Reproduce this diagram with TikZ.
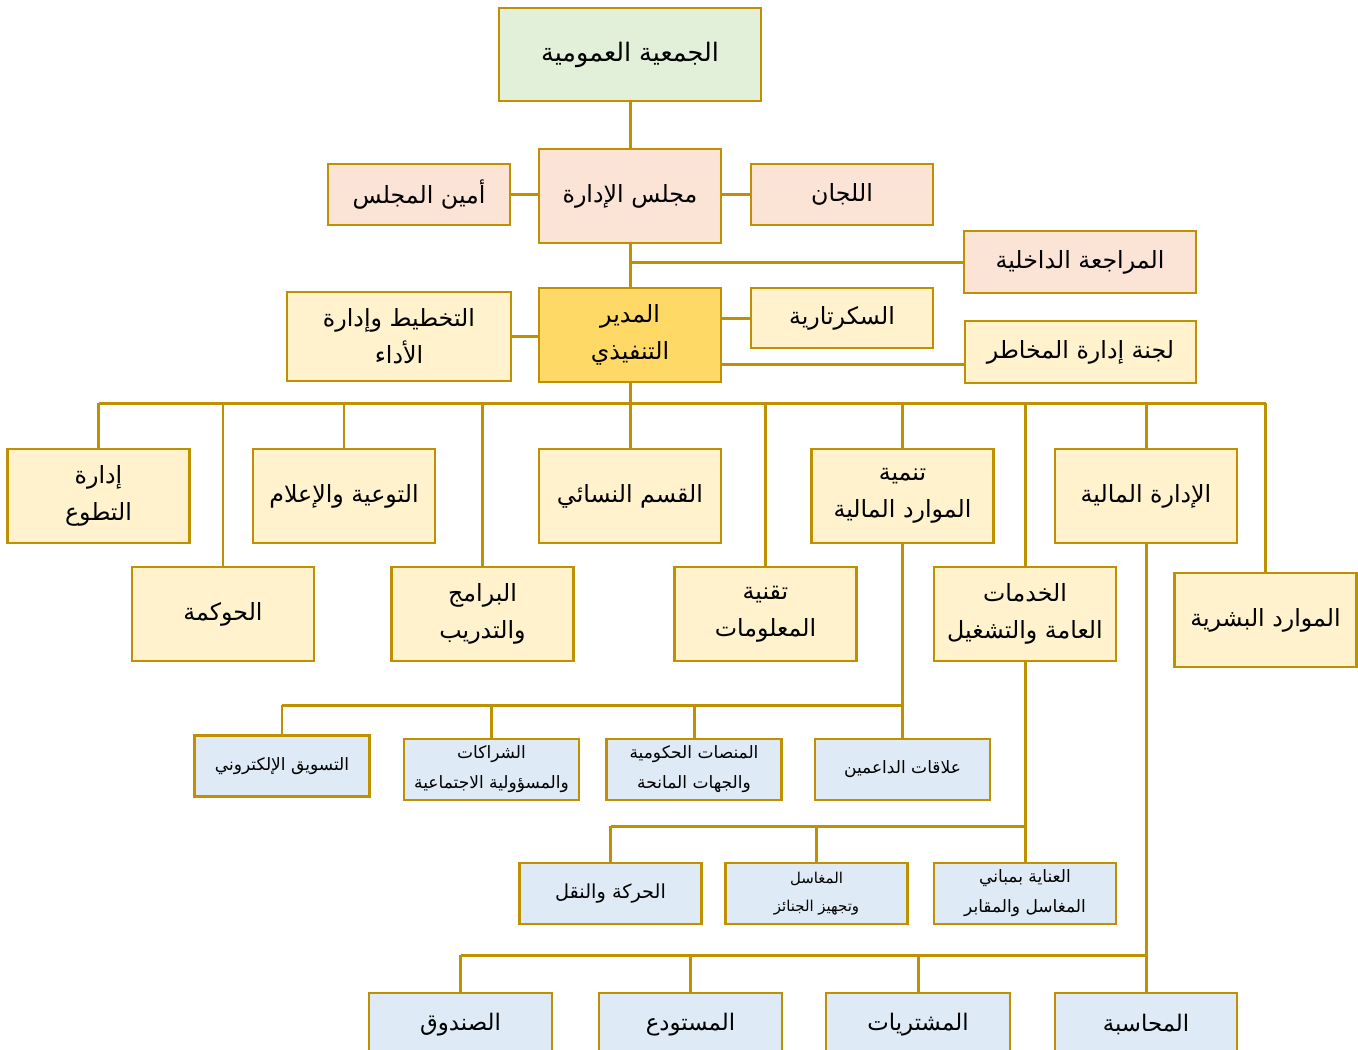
\documentclass[tikz,border=0pt]{standalone}
\usepackage{fontspec}
\newfontfamily\arabicfont[Script=Arabic]{DejaVu Sans}
\TeXXeTstate=1
\usepackage{tikz}
\definecolor{LineGold}{HTML}{BF9000}
\definecolor{AssemblyGreen}{HTML}{E2EFD9}
\definecolor{BoardPeach}{HTML}{FBE4D5}
\definecolor{CeoYellow}{HTML}{FFD966}
\definecolor{DeptYellow}{HTML}{FFF2CC}
\definecolor{UnitBlue}{HTML}{DEEAF6}
\newcommand{\artext}[1]{\beginR #1\endR}
\tikzset{
  orgbox/.style={rectangle, draw=LineGold, line width=1.6pt, minimum width=3.64cm, minimum height=1.88cm, align=center, inner sep=2pt, font=\arabicfont\fontsize{13.5}{21}\selectfont},
  assemblybox/.style={orgbox, fill=AssemblyGreen, minimum width=5.24cm, minimum height=1.86cm, font=\arabicfont\fontsize{14.5}{21}\selectfont},
  boardbox/.style={orgbox, fill=BoardPeach},
  ceobox/.style={orgbox, fill=CeoYellow},
  deptbox/.style={orgbox, fill=DeptYellow},
  unitbox/.style={orgbox, fill=UnitBlue, minimum width=3.5cm, minimum height=1.22cm, font=\arabicfont\fontsize{9.7}{17}\selectfont},
  smallunit/.style={unitbox, font=\arabicfont\fontsize{8.5}{16}\selectfont},
  bottomunit/.style={unitbox, minimum width=3.66cm, minimum height=1.26cm, font=\arabicfont\fontsize{13}{17}\selectfont},
  link/.style={draw=LineGold, line width=1.7pt}
}

\begin{document}
\begin{tikzpicture}[x=0.02cm, y=-0.02cm]
  \fill[white] (0,0) rectangle (1358,1049);
  \useasboundingbox (0,0) rectangle (1358,1049);

  \node[assemblybox] (assembly) at (630,54.5) {\artext{الجمعية العمومية}};
  \node[boardbox] (board) at (630,196) {\artext{مجلس الإدارة}};
  \node[boardbox, minimum height=1.22cm] (boardsec) at (419,194.5) {\artext{أمين المجلس}};
  \node[boardbox, minimum height=1.22cm] (committees) at (842,194.5) {\artext{اللجان}};
  \node[boardbox, minimum width=4.64cm, minimum height=1.24cm] (audit) at (1080,262) {\artext{المراجعة الداخلية}};

  \node[ceobox] (ceo) at (630,335) {\artext{المدير}\\\artext{التنفيذي}};
  \node[deptbox, minimum width=4.48cm, minimum height=1.78cm] (planning) at (399,336.5) {\artext{التخطيط وإدارة}\\\artext{الأداء}};
  \node[deptbox, minimum height=1.2cm] (secretary) at (842,318) {\artext{السكرتارية}};
  \node[deptbox, minimum width=4.62cm, minimum height=1.24cm] (risk) at (1080.5,352) {\artext{لجنة إدارة المخاطر}};

  \node[deptbox] (volunteer) at (98.5,496) {\artext{إدارة}\\\artext{التطوع}};
  \node[deptbox] (media) at (344,496) {\artext{التوعية والإعلام}};
  \node[deptbox] (women) at (630,496) {\artext{القسم النسائي}};
  \node[deptbox] (funding) at (902.5,496) {\artext{تنمية}\\\artext{الموارد المالية}};
  \node[deptbox] (finance) at (1146,496) {\artext{الإدارة المالية}};
  \node[deptbox] (governance) at (223,614) {\artext{الحوكمة}};
  \node[deptbox] (training) at (482.5,614) {\artext{البرامج}\\\artext{والتدريب}};
  \node[deptbox] (infotech) at (765.5,614) {\artext{تقنية}\\\artext{المعلومات}};
  \node[deptbox] (services) at (1025,614) {\artext{الخدمات}\\\artext{العامة والتشغيل}};
  \node[deptbox] (hr) at (1265.5,620) {\artext{الموارد البشرية}};

  \node[unitbox] (marketing) at (282,766) {\artext{التسويق الإلكتروني}};
  \node[unitbox] (partners) at (491.5,769.5) {\artext{الشراكات}\\\artext{والمسؤولية الاجتماعية}};
  \node[unitbox] (platforms) at (694,769.5) {\artext{المنصات الحكومية}\\\artext{والجهات المانحة}};
  \node[unitbox] (donors) at (902.5,769.5) {\artext{علاقات الداعمين}};

  \node[unitbox, minimum width=3.64cm, font=\arabicfont\fontsize{11}{17}\selectfont] (transport) at (610.5,893.5) {\artext{الحركة والنقل}};
  \node[smallunit, minimum width=3.64cm] (washing) at (816.5,893.5) {\artext{المغاسل}\\\artext{وتجهيز الجنائز}};
  \node[unitbox, minimum width=3.64cm] (care) at (1025,893.5) {\artext{العناية بمباني}\\\artext{المغاسل والمقابر}};

  \node[bottomunit] (cashbox) at (460.5,1024.5) {\artext{الصندوق}};
  \node[bottomunit] (store) at (690.5,1024.5) {\artext{المستودع}};
  \node[bottomunit, minimum width=3.68cm] (purchases) at (918,1024.5) {\artext{المشتريات}};
  \node[bottomunit, minimum width=3.64cm] (accounting) at (1146,1024.5) {\artext{المحاسبة}};

  \coordinate (busmain) at (0,403);
  \coordinate (busfund) at (0,705);
  \coordinate (busserv) at (0,826);
  \coordinate (busfin) at (0,955);

  \draw[link] (assembly) -- (board);
  \draw[link] (boardsec.east) -- (boardsec.east -| board.west);
  \draw[link] (committees.west) -- (committees.west -| board.east);
  \draw[link] (board) -- (ceo);
  \draw[link] (board.south |- audit.west) -- (audit.west);
  \draw[link] (planning.east) -- (planning.east -| ceo.west);
  \draw[link] (ceo.east |- secretary.west) -- (secretary.west);
  \draw[link] ([yshift=-0.24cm]ceo.east |- risk.west) -- ([yshift=-0.24cm]risk.west);

  \draw[link] (ceo) -- (women);
  \draw[link] (volunteer.north |- busmain) -- (hr.north |- busmain);
  \foreach \n in {volunteer,governance,media,training,infotech,funding,services,finance,hr}
    \draw[link] (\n.north |- busmain) -- (\n.north);

  \draw[link] (funding) -- (donors);
  \draw[link] (marketing.north |- busfund) -- (funding.south |- busfund);
  \foreach \n in {marketing,partners,platforms}
    \draw[link] (\n.north |- busfund) -- (\n.north);

  \draw[link] (services) -- (care);
  \draw[link] (transport.north |- busserv) -- (services.south |- busserv);
  \foreach \n in {transport,washing}
    \draw[link] (\n.north |- busserv) -- (\n.north);

  \draw[link] (finance) -- (accounting);
  \draw[link] (cashbox.north |- busfin) -- (finance.south |- busfin);
  \foreach \n in {cashbox,store,purchases}
    \draw[link] (\n.north |- busfin) -- (\n.north);
\end{tikzpicture}
\end{document}
